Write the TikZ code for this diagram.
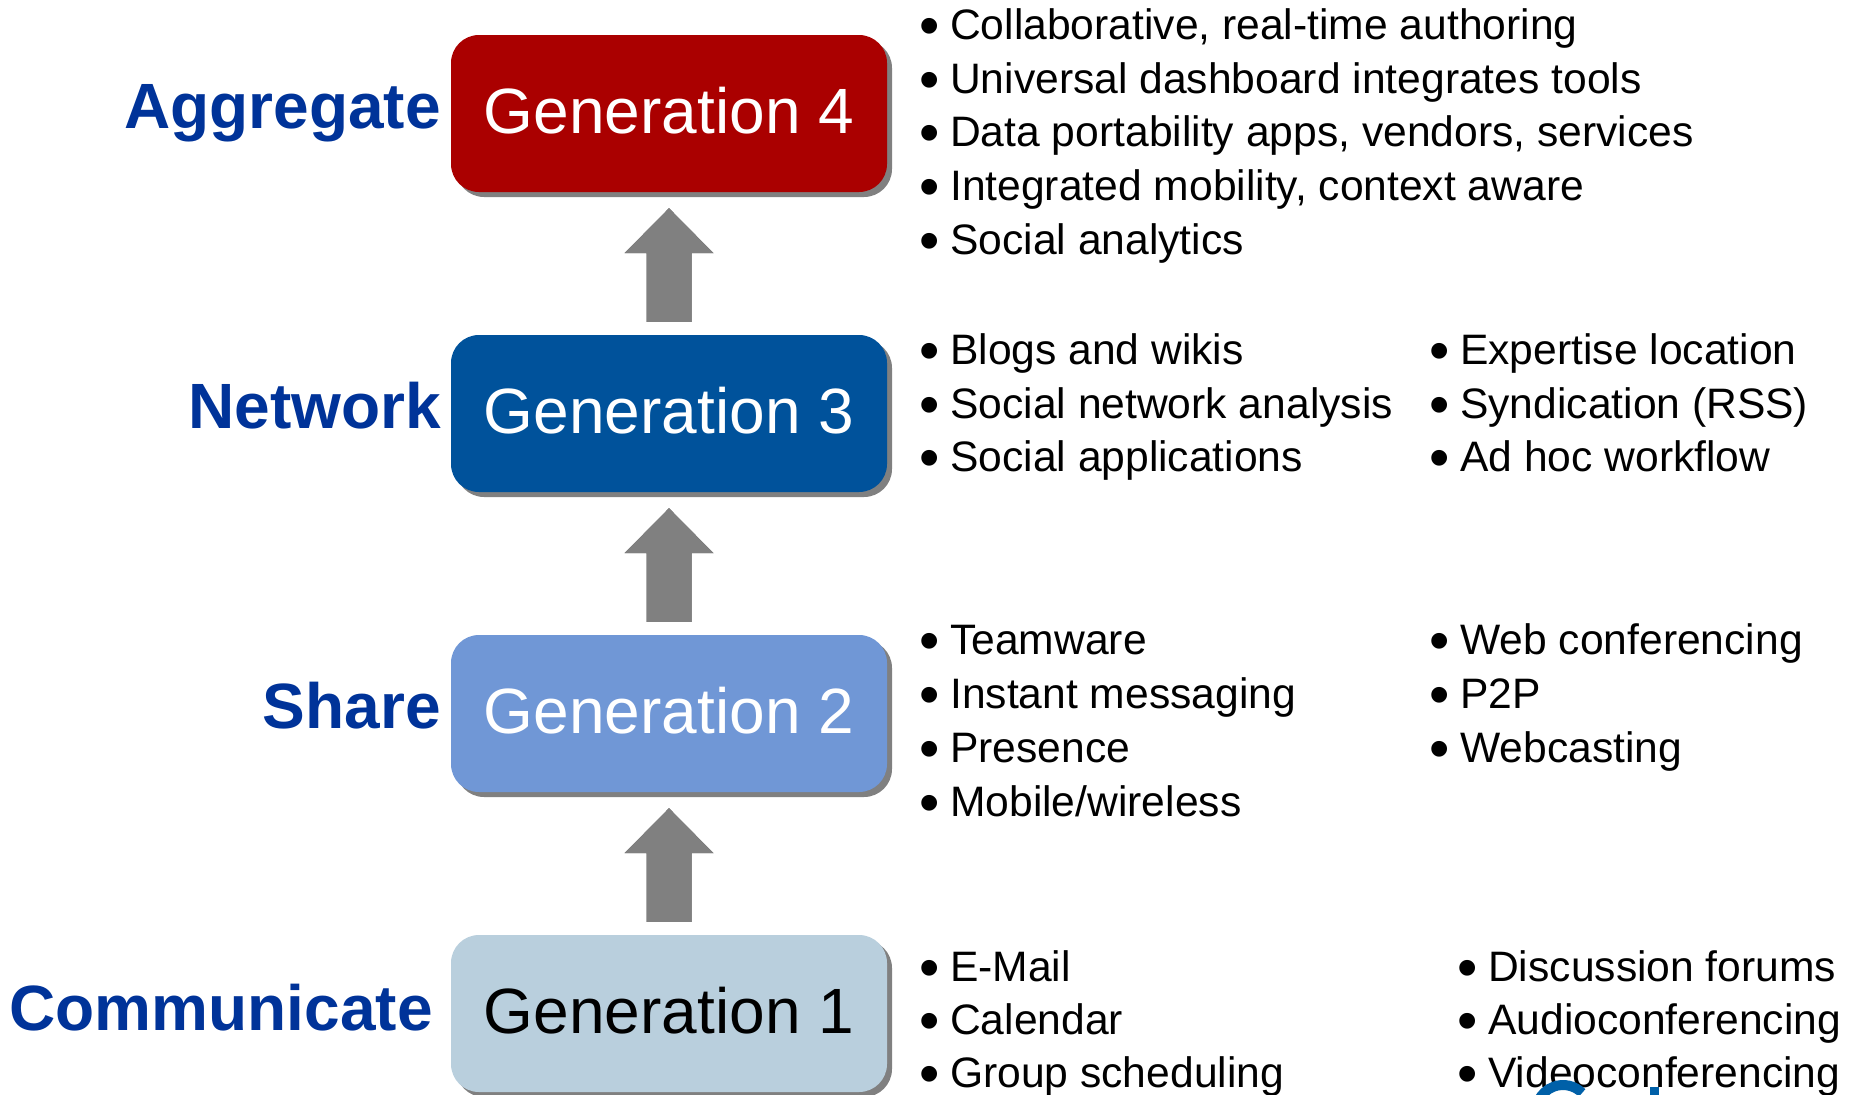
\documentclass[tikz,border=0pt]{standalone}
\usepackage{fontspec}
\setmainfont{Liberation Sans}
\usetikzlibrary{calc,shadows}

\definecolor{labelblue}{RGB}{0,51,153}
\definecolor{genfour}{RGB}{170,0,0}
\definecolor{genthree}{RGB}{0,82,155}
\definecolor{gentwo}{RGB}{112,151,214}
\definecolor{genone}{RGB}{185,207,221}
\definecolor{boxshade}{RGB}{128,128,128}
\definecolor{arrowgrey}{RGB}{128,128,128}
\definecolor{arrowshade}{RGB}{88,88,88}
\definecolor{logoblue}{RGB}{0,96,168}

% bullet followed by its item text
\newcommand\itembul[1]{\makebox[31pt][l]{\raisebox{-6pt}{\fontsize{58}{58}\selectfont\textbullet}}#1}
% one column of bullet items: name, x, first baseline, line step, items
\newcommand\listcol[5]{%
  \foreach \t [count=\i] in {#5}
    \node[item] (#1-\i) at (#2,{#3+(\i-1)*#4}) {\itembul{\t}};}
% block arrow pointing up from node #1 to node #2
\newcommand\genarrow[3]{%
  \coordinate (#3-tip) at ($(#2.south)+(0,16)$);
  \coordinate (#3-foot) at ($(#1.north)+(0,-13)$);
  \foreach \dy/\col in {4/arrowshade,0/arrowgrey}
    \fill[\col, shift={(0,\dy)}]
      (#3-tip) -- ($(#3-tip)+(44.5,45)$) -- ($(#3-tip)+(22.5,45)$)
      -- ($(#3-foot)+(22.5,0)$) -- ($(#3-foot)+(-22.5,0)$)
      -- ($(#3-tip)+(-22.5,45)$) -- ($(#3-tip)+(-44.5,45)$) -- cycle;}

\begin{document}
\begin{tikzpicture}[x=1pt,y=-1pt,
  genbox/.style={rounded corners=28pt, minimum width=436pt, minimum height=157pt,
    inner sep=0pt, text height=46pt, text depth=7pt,
    font=\fontsize{64}{64}\selectfont,
    drop shadow={shadow xshift=5pt, shadow yshift=-5pt, fill=boxshade, opacity=1}},
  stage/.style={anchor=base east, inner sep=0pt, text=labelblue,
    font=\fontsize{64}{64}\selectfont\bfseries},
  item/.style={anchor=base west, inner sep=0pt, font=\fontsize{42.6}{48}\selectfont}]

\useasboundingbox (0,0) rectangle (1850,1095);
\clip (0,0) rectangle (1850,1095);
\fill[white] (0,0) rectangle (1850,1095);

% generation boxes
\node[genbox, fill=genfour, text=white]  (g4) at (669,113.5) {Generation 4};
\node[genbox, fill=genthree, text=white] (g3) at (669,413.5) {Generation 3};
\node[genbox, fill=gentwo, text=white]   (g2) at (669,713.5) {Generation 2};
\node[genbox, fill=genone, text=black]   (g1) at (669,1013.5) {Generation 1};

% stage names
\node[stage] (s4) at (441,128) {Aggregate};
\node[stage] (s3) at (441,428) {Network};
\node[stage] (s2) at (441,728) {Share};
\node[stage] (s1) at (433,1030) {Communicate};

% arrows between generations
\genarrow{g3}{g4}{a34}
\genarrow{g2}{g3}{a23}
\genarrow{g1}{g2}{a12}

% features of each generation
\listcol{f4}{919}{39.5}{53.7}{{Collaborative, real-time authoring},
  {Universal dashboard integrates tools},
  {Data portability apps, vendors, services},
  {Integrated mobility, context aware},
  {Social analytics}}
\listcol{f3l}{919}{364.5}{53.7}{{Blogs and wikis},{Social network analysis},{Social applications}}
\listcol{f3r}{1429}{364.5}{53.7}{{Expertise location},{Syndication (RSS)},{Ad hoc workflow}}
\listcol{f2l}{919}{654}{54}{{Teamware},{Instant messaging},{Presence},{Mobile/wireless}}
\listcol{f2r}{1429}{654}{54}{{Web conferencing},{P2P},{Webcasting}}
\listcol{f1l}{919}{981}{53}{{E-Mail},{Calendar},{Group scheduling}}
\listcol{f1r}{1457}{981}{53}{{Discussion forums},{Audioconferencing},{Videoconferencing}}

% logo fragment at the lower edge
\draw[logoblue, line width=10pt] (1563,1112) ++(160:27) arc[start angle=160, end angle=315, radius=27];
\fill[logoblue] (1650,1087) rectangle (1659,1100);
\end{tikzpicture}
\end{document}
